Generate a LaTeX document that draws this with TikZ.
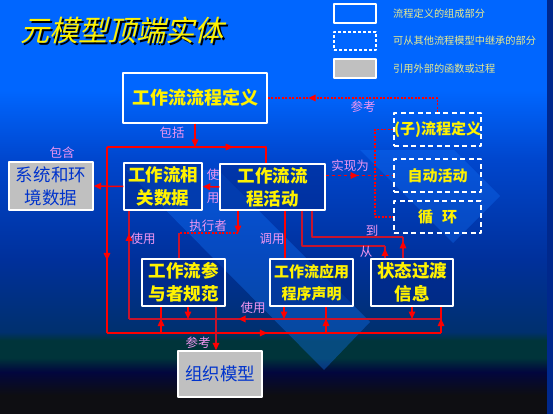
\documentclass[tikz,border=0pt]{standalone}
\usepackage{fontspec}
\newfontfamily\cjk{Noto Sans CJK SC}
\newfontfamily\cjkslant[FakeSlant=0.25]{Noto Sans CJK SC}
\usetikzlibrary{arrows.meta,decorations.markings}
\definecolor{bgA}{RGB}{0,102,255}
\definecolor{bgC}{RGB}{0,70,205}
\definecolor{bgD}{RGB}{0,48,155}
\definecolor{bgE}{RGB}{0,48,110}
\definecolor{bgF}{RGB}{0,52,58}
\definecolor{bgG}{RGB}{2,6,62}
\definecolor{bgH}{RGB}{14,14,18}
\definecolor{stripec}{RGB}{20,120,255}
\definecolor{boxc}{RGB}{0,40,140}
\definecolor{boxg}{RGB}{192,192,192}
\definecolor{txtnavy}{RGB}{0,51,204}
\definecolor{labc}{RGB}{240,150,240}
\definecolor{keyc}{RGB}{235,235,140}
\definecolor{lred}{RGB}{255,0,0}
\definecolor{dred}{RGB}{200,20,45}
\definecolor{edgec}{RGB}{0,40,140}
\pgfdeclareverticalshading{bgshade}{100bp}{color(0bp)=(bgH); color(27.3bp)=(bgH); color(30.1bp)=(bgG); color(31.8bp)=(bgF); color(33.9bp)=(bgF); color(34.9bp)=(bgE); color(43.6bp)=(bgD); color(55.7bp)=(bgC); color(64.1bp)=(bgA); color(100bp)=(bgA)}
\begin{document}
\begin{tikzpicture}[x=1pt,y=-1pt,line join=round,font=\cjk,>={Triangle[length=7.5pt,width=6.5pt]},
	box/.style={draw=white,line width=1.4pt,fill=boxc,fill opacity=0.5,text opacity=1,text=yellow,align=center,inner sep=0pt,font=\cjk\bfseries\fontsize{17.5}{23}\selectfont},
	dbox/.style={box,fill=none,line width=1.6pt,dash pattern=on 5pt off 3.5pt,font=\cjk\bfseries\fontsize{15}{18}\selectfont},
	gbox/.style={box,fill=boxg,fill opacity=1,text=txtnavy,font=\cjk\fontsize{17.5}{23}\selectfont},
	sz/.style 2 args={minimum width=#1,minimum height=#2},
	lab/.style={text=labc,inner sep=0pt,align=center,font=\cjk\fontsize{12.5}{23}\selectfont},
	key/.style={text=keyc,anchor=west,inner sep=0pt,font=\cjk\fontsize{10.2}{12}\selectfont},
	rl/.style={draw=lred,line width=1.5pt},
	dl/.style={draw=dred,line width=1.5pt},
	al/.style={draw=dred,line width=2.4pt},
	dot/.style={rl,dash pattern=on 2pt off 1.5pt},
	dsh/.style={rl,dash pattern=on 3.5pt off 2.5pt},
	redend/.style={-{Triangle[length=7.5pt,width=6.5pt,color=lred]}},
	marr/.style={postaction={decorate,decoration={markings,mark=at position #1 with {\arrow[lred,solid]{>}}}}}]
	\useasboundingbox (0,0) rectangle (553,414);
	% background
	\shade[shading=bgshade] (0,0) rectangle (553,414);
	\fill[stripec,opacity=0.35] (126,170) -- (218,170) -- (370,322) -- (324,370) -- cycle;
	\fill[stripec,opacity=0.3] (360,150) -- (454,150) -- (500,196) -- (453,243) -- cycle;
	\fill[edgec] (547,0) rectangle (553,414);
	% title and key
	\node[text=black,font=\cjkslant\fontsize{29}{30}\selectfont] (ttlsh) at (124,32) {元模型顶端实体};
	\node[text=yellow,font=\cjkslant\fontsize{29}{30}\selectfont] (ttl) at (122,30) {元模型顶端实体};
	\node[box,fill=none,sz={42}{19},line width=1.2pt] (k1) at (355,13.5) {};
	\node[dbox,sz={42}{18},line width=1.2pt,dash pattern=on 3pt off 2pt] (k2) at (355,41) {};
	\node[gbox,sz={42}{19},line width=1.2pt] (k3) at (355,68.5) {};
	\node[key] (k1t) at (393,14) {流程定义的组成部分};
	\node[key] (k2t) at (393,41) {可从其他流程模型中继承的部分};
	\node[key] (k3t) at (393,69) {引用外部的函数或过程};
	% boxes
	\node[box,fill=none,sz={144}{50},font=\cjk\bfseries\fontsize{18}{22}\selectfont] (def) at (195,98) {工作流流程定义};
	\node[gbox,sz={84}{48}] (env) at (51,186) {系统和环\\境数据};
	\node[box,sz={78}{47}] (rel) at (163,186.5) {工作流相\\关数据};
	\node[box,sz={105}{46}] (act) at (272.5,187) {工作流流\\程活动};
	\node[dbox,sz={87}{33}] (sub) at (437.5,129.5) {(子)流程定义};
	\node[dbox,sz={87}{33}] (auto) at (437.5,175.5) {自动活动};
	\node[dbox,sz={87}{32}] (loop) at (437.5,217) {循\hspace{0.6em}环};
	\node[box,sz={83}{47}] (part) at (183.5,282.5) {工作流参\\与者规范};
	\node[box,sz={83}{47},font=\cjk\bfseries\fontsize{15}{22}\selectfont] (app) at (311.5,282.5) {工作流应用\\程序声明};
	\node[box,sz={82}{47}] (state) at (412,282.5) {状态过渡\\信息};
	\node[gbox,sz={84}{46}] (org) at (220,374) {组织模型};
	\path
	(107,147) coordinate (TL)
	(266,147) coordinate (TR)
	(107,333) coordinate (BL)
	(441,333) coordinate (BR)
	(161,333) coordinate (B1)
	(326,333) coordinate (B2)
	(129,319) coordinate (AL)
	(441,319) coordinate (AR)
	(188,319) coordinate (A1)
	(284,319) coordinate (A2)
	(412,319) coordinate (A3)
	(216,340) coordinate (R)
	(238,233) coordinate (E1)
	(179,233) coordinate (E2)
	(285,240) coordinate (C)
	(302,246) coordinate (F1)
	(385,246) coordinate (F2)
	(312,237) coordinate (T1)
	(403,237) coordinate (T2)
	;
	% connectors
	\draw[dot,marr=0.78] (sub.north) |- (def.east);
	\draw[rl,->] (def.south) -- (def.south |- TL);
	\draw[rl,marr=0.72] (TL) -- (TR) -- (TR |- act.north);
	\draw[rl,marr=0.61] (TL) -- (BL);
	\draw[rl,marr=0.48] (BL) -- (BR);
	\draw[rl,marr=0.55] (BR) -- (BR |- state.south);
	\draw[rl,marr=0.55] (B1) -- (B1 |- part.south);
	\draw[rl,marr=0.55] (B2) -- (B2 |- app.south);
	\draw[al,marr=0.65] (AR) -- (AL);
	\draw[dl,marr=0.79] (AL) -- (AL |- rel.south);
	\draw[rl,->] (A1 |- part.south) -- (A1);
	\draw[rl,->] (A2 |- app.south) -- (A2);
	\draw[rl,->] (A3 |- state.south) -- (A3);
	\draw[dl,redend] (R |- part.south) -- (R |- org.north);
	\draw[rl,->] (E1 |- act.south) -- (E1);
	\draw[dot] (E1) -- (E2);
	\draw[dl] (E2) -- (E2 |- part.north);
	\draw[rl] (C |- act.south) -- (C |- app.north);
	\draw[dl] (F1 |- act.south) -- (F1) -- (F2);
	\draw[dl,marr=0.8] (F2 |- state.north) -- (F2);
	\draw[dl] (T1 |- act.south) -- (T1) -- (T2);
	\draw[dl,marr=0.82] (T2 |- state.north) -- (T2);
	\draw[rl,->] (act.west) -- (rel.east);
	\draw[rl,->] (rel.west) -- (env.east);
	\draw[dsh,marr=0.48] (act.east |- auto.west) -- (auto.west);
	\draw[dot] (sub.west) -- ++(-18,0) |- (loop.west);
	% labels
	\node[lab] (l1) at (363,107) {参考};
	\node[lab] (l2) at (172,133) {包括};
	\node[lab] (l3) at (62,153) {包含};
	\node[lab] (l4) at (213,186.5) {使\\用};
	\node[lab] (l5) at (350,166) {实现为};
	\node[lab] (l6) at (208,226) {执行者};
	\node[lab] (l7) at (143,239) {使用};
	\node[lab] (l8) at (272,239) {调用};
	\node[lab] (l9) at (372,231) {到};
	\node[lab] (l10) at (366,252) {从};
	\node[lab] (l11) at (253,308) {使用};
	\node[lab] (l12) at (198,343) {参考};
\end{tikzpicture}
\end{document}
